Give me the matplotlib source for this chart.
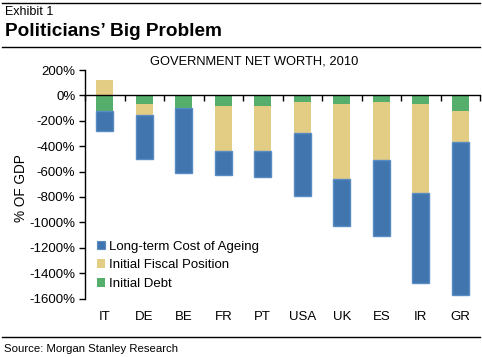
import numpy as np
import matplotlib
matplotlib.use("Agg")
import matplotlib.pyplot as plt
from matplotlib.lines import Line2D
from matplotlib.patches import Patch
import matplotlib.transforms as mtransforms

plt.rcParams['font.family'] = ['Liberation Sans', 'DejaVu Sans']

countries = ["IT", "DE", "BE", "FR", "PT", "USA", "UK", "ES", "IR", "GR"]
initial_debt = [-120, -70, -100, -80, -80, -55, -70, -55, -65, -120]
initial_fiscal = [120, -85, 0, -355, -360, -245, -585, -455, -705, -250]
cost_ageing = [-160, -350, -510, -195, -200, -495, -375, -600, -710, -1205]
y_ticks = [200, 0, -200, -400, -600, -800, -1000, -1200, -1400, -1600]

BLUE = '#4075AE'
BLUE_EDGE = '#5A8CC4'
YELLOW = '#E3CD85'
GREEN = '#55AE6B'

W, H = 482, 357
fig = plt.figure(figsize=(W / 100, H / 100), dpi=100)
ax = fig.add_axes([85 / W, 1 - 298.5 / H, (480 - 85) / W, (298.5 - 70) / H])

x = np.arange(len(countries))
debt = np.array(initial_debt, dtype=float)
fiscal = np.array(initial_fiscal, dtype=float)
ageing = np.array(cost_ageing, dtype=float)

bw = 0.43
ax.bar(x, debt, bw, bottom=0, color=GREEN, linewidth=0, zorder=2)
fiscal_bottom = np.where(fiscal > 0, 0, debt)
ax.bar(x, fiscal, bw, bottom=fiscal_bottom, color=YELLOW, linewidth=0, zorder=2)
ageing_bottom = debt + np.minimum(fiscal, 0)
ax.bar(x, ageing, bw, bottom=ageing_bottom, color=BLUE, edgecolor=BLUE_EDGE,
       linewidth=1.0, zorder=2)

ax.set_xlim(-0.5, len(countries) - 0.5)
ax.set_ylim(-1600, 200)

for s in ['top', 'right']:
    ax.spines[s].set_visible(False)
ax.spines['bottom'].set_position(('data', 0))
ax.spines['bottom'].set_zorder(5)
ax.spines['bottom'].set_linewidth(1.0)
ax.spines['left'].set_linewidth(1.0)

ax.set_xticks(np.arange(len(countries) + 1) - 0.5)
ax.set_xticklabels([])
ax.tick_params(axis='x', direction='out', length=4, width=1, color='black')
ax.set_yticks(y_ticks)
ax.set_yticklabels([f"{v}%" for v in y_ticks], fontsize=9.5)
ax.tick_params(axis='y', direction='out', length=4, width=1, pad=3)

trans = mtransforms.blended_transform_factory(ax.transData, ax.transAxes)
for i, c in enumerate(countries):
    ax.text(i, -0.082, c, transform=trans, ha='center', va='center', fontsize=9.5)

ax.set_ylabel("% OF GDP", fontsize=9.8)
ax.yaxis.set_label_coords((28 - 85) / 395, (298.5 - 188) / 228.5)

fig.text(253.7 / W, 1 - 62 / H, "GOVERNMENT NET WORTH, 2010", ha='center',
         va='center', fontsize=9.3)

handles = [Patch(facecolor=BLUE, edgecolor=BLUE_EDGE, linewidth=0.8),
           Patch(facecolor=YELLOW, edgecolor='none'),
           Patch(facecolor=GREEN, edgecolor='none')]
labels = ["Long-term Cost of Ageing", "Initial Fiscal Position", "Initial Debt"]
fig.legend(handles, labels, loc='upper left',
           bbox_to_anchor=(96.7 / W, 1 - 240.5 / H), frameon=False,
           fontsize=9.5, handlelength=0.65, handleheight=0.65,
           handletextpad=0.3, labelspacing=0.52, borderpad=0, borderaxespad=0)

# header / footer
fig.add_artist(Line2D([2 / W, 480 / W], [1 - 3.3 / H, 1 - 3.3 / H], color='black', lw=1.0))
fig.add_artist(Line2D([2 / W, 480 / W], [1 - 46.7 / H, 1 - 46.7 / H], color='black', lw=1.0))
fig.add_artist(Line2D([2 / W, 480 / W], [1 - 336.7 / H, 1 - 336.7 / H], color='black', lw=1.0))
fig.text(5 / W, 1 - 12 / H, "Exhibit 1", ha='left', va='center', fontsize=9)
fig.text(5 / W, 1 - 31 / H, "Politicians\u2019 Big Problem", ha='left', va='center',
         fontsize=13.7, fontweight='bold')
fig.text(4 / W, 1 - 349 / H, "Source: Morgan Stanley Research", ha='left',
         va='center', fontsize=8.2)

fig.savefig("out.png", dpi=100)
